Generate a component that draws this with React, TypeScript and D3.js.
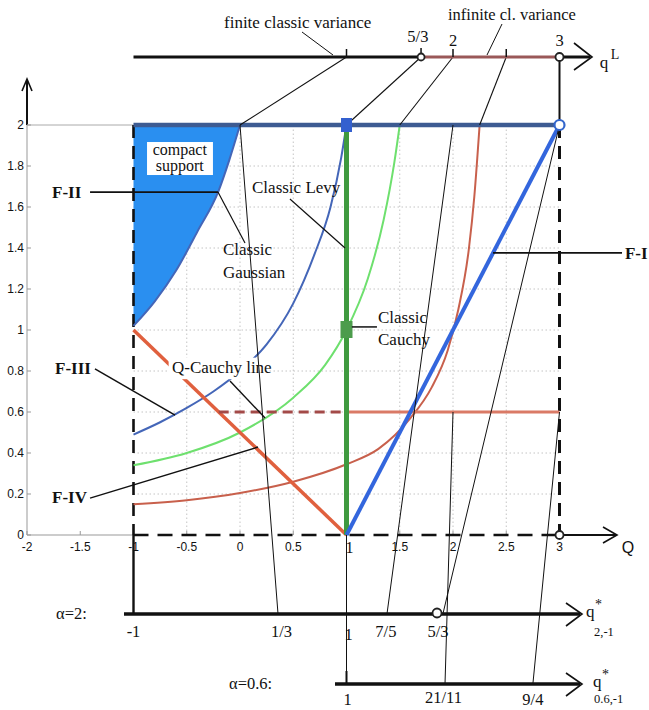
import React from 'react';
import * as d3 from 'd3';

// ---------- data (Q, alpha) ----------
const alphaTicks = [0, 0.2, 0.4, 0.6, 0.8, 1, 1.2, 1.4, 1.6, 1.8, 2];
const alphaTickLabels = ['0', '0.2', '0.4', '0.6', '0.8', '1', '1.2', '1.4', '1.6', '1.8', '2'];
const qTicks = [-2, -1.5, -1, -0.5, 0, 0.5, 1, 1.5, 2, 2.5, 3];
const qTickLabels = ['-2', '-1.5', '-1', '-0.5', '0', '0.5', '1', '1.5', '2', '2.5', '3'];
const gridQ = [-0.5, 0, 0.5, 1, 1.5, 2, 2.5];
const gridA = [0.2, 0.4, 0.6, 0.8, 1, 1.2, 1.4, 1.6, 1.8];

// q^L = 1 boundary (Classic Gaussian / compact support edge)
const gaussianCurve: [number, number][] = [[-1, 1.02], [-0.8, 1.14], [-0.6, 1.29], [-0.4, 1.48], [-0.2, 1.68], [-0.1, 1.83], [0, 2]];
// q^L = 5/3 (Classic Levy)
const levyCurve: [number, number][] = [[-1, 0.49], [-0.75, 0.55], [-0.5, 0.62], [-0.25, 0.7], [0, 0.8], [0.25, 0.93], [0.5, 1.13], [0.7, 1.37], [0.85, 1.6], [0.95, 1.84], [1, 2]];
// q^L = 2
const greenCurve: [number, number][] = [[-1, 0.34], [-0.5, 0.4], [0, 0.5], [0.5, 0.67], [0.8, 0.83], [1, 1.0], [1.2, 1.25], [1.35, 1.54], [1.45, 1.82], [1.5, 2]];
// q^L = 5/2
const redCurve: [number, number][] = [[-1, 0.15], [-0.5, 0.17], [0, 0.205], [0.5, 0.26], [1, 0.345], [1.3, 0.42], [1.6, 0.57], [1.8, 0.72], [1.95, 0.9], [2.05, 1.1], [2.15, 1.4], [2.2, 1.65], [2.25, 2]];
const qCauchyLine: [number, number][] = [[-1, 1], [1, 0]];
const fOneLine: [number, number][] = [[1, 0], [3, 2]];
const alpha06Dashed: [number, number][] = [[-0.2, 0.6], [1, 0.6]];
const alpha06Solid: [number, number][] = [[1, 0.6], [3, 0.6]];
const alpha2Line: [number, number][] = [[-1, 2], [3, 2]];
const classicLine: [number, number][] = [[1, 0], [1, 2]];

// top q^L axis
const qLTickValues = [1, 2, 2.5];
const qLCircleValues = [1.7, 3];
const qLLabels = [{ t: '5/3', v: 1.67 }, { t: '2', v: 2 }, { t: '3', v: 3 }];
const qLProjections = [{ qL: 1, Q: 0 }, { qL: 1.7, Q: 1 }, { qL: 2, Q: 1.5 }, { qL: 2.5, Q: 2.25 }, { qL: 3, Q: 3 }];

// bottom q* axes (label, position along the axis in Q units)
const qStar2Ticks = [{ t: '-1', v: -1 }, { t: '1/3', v: 0.39 }, { t: '1', v: 1.02 }, { t: '7/5', v: 1.37 }, { t: '5/3', v: 1.86 }];
const qStar06Ticks = [{ t: '1', v: 1.01 }, { t: '21/11', v: 1.91 }, { t: '9/4', v: 2.75 }];
const qStar2Projections = [{ Q: 0, a: 2, v: 0.357 }, { Q: 2, a: 2, v: 1.38 }, { Q: 3, a: 2, v: 1.905 }];
const qStar06Projections = [{ Q: 2, a: 0.6, v: 1.925 }, { Q: 3, a: 0.6, v: 2.75 }];

const SERIF = '"Liberation Serif", "Times New Roman", serif';
const SANS = '"Liberation Sans", Arial, sans-serif';

export default function App() {
  const x = d3.scaleLinear().domain([-2, 3]).range([27, 559.5]);
  const y = d3.scaleLinear().domain([0, 2]).range([535, 125]);
  const straight = d3.line<[number, number]>().x(d => x(d[0])).y(d => y(d[1]));
  const smooth = d3.line<[number, number]>().x(d => x(d[0])).y(d => y(d[1])).curve(d3.curveMonotoneX);

  const yTop = 57;
  const yA2 = 614;
  const yA06 = 684;

  const fillPath = smooth(gaussianCurve) + `L${x(-1)},${y(2)}Z`;

  const P = (q: number, a: number) => [x(q), y(a)];
  const seg = (a: number[], b: number[], props: any = {}) => (
    <line x1={a[0]} y1={a[1]} x2={b[0]} y2={b[1]} stroke="#111" strokeWidth={1} {...props} />
  );
  const LBL = 17;

  return (
    <svg width={649} height={710} style={{ position: 'absolute', left: 0, top: 0, background: '#fff' }}
      xmlns="http://www.w3.org/2000/svg">
      <rect x={0} y={0} width={649} height={710} fill="#fff" />
      {/* grid */}
      <g stroke="#c4c4c4" strokeWidth={1} strokeDasharray="1.5 2.5">
        {gridQ.map(q => <line key={'gq' + q} x1={x(q)} x2={x(q)} y1={y(0)} y2={y(2)} />)}
        {gridA.map(a => <line key={'ga' + a} x1={x(-1)} x2={x(3)} y1={y(a)} y2={y(a)} />)}
      </g>
      {/* compact support fill */}
      <path d={fillPath} fill="#2a8ff0" />
      {/* y axis */}
      <line x1={x(-2)} x2={x(-2)} y1={y(0)} y2={y(2)} stroke="#999" strokeWidth={1} />
      <line x1={x(-2)} x2={x(-2)} y1={y(2)} y2={80} stroke="#111" strokeWidth={2} />
      <path d={`M${x(-2) - 5},${91} L${x(-2)},${79} L${x(-2) + 5},${91}`} fill="none" stroke="#111" strokeWidth={1.6} />
      <line x1={x(-2)} x2={x(-1)} y1={y(2)} y2={y(2)} stroke="#aaa" strokeWidth={1} />
      <line x1={x(-2)} x2={x(-1)} y1={y(0)} y2={y(0)} stroke="#999" strokeWidth={1} />
      {alphaTicks.map((a, i) => (
        <g key={'at' + i}>
          <line x1={x(-2)} x2={x(-2) + 4} y1={y(a)} y2={y(a)} stroke="#999" />
          <text x={24} y={y(a) + 4} textAnchor="end" fontFamily={SANS} fontSize={12} fill="#111">{alphaTickLabels[i]}</text>
        </g>
      ))}
      {qTicks.map((q, i) => (
        <g key={'qt' + i}>
          <line x1={x(q)} x2={x(q)} y1={y(0)} y2={y(0) - 4} stroke="#999" />
          {qTickLabels[i] === '1'
            ? <text x={x(q) + 3} y={y(0) + 18} textAnchor="middle" fontFamily={SERIF} fontSize={16} fill="#111">1</text>
            : <text x={x(q)} y={y(0) + 16} textAnchor="middle" fontFamily={SANS} fontSize={12} fill="#111">{qTickLabels[i]}</text>}
        </g>
      ))}
      {/* dashed boundaries */}
      <line x1={x(-1)} x2={x(-1)} y1={y(2)} y2={y(0)} stroke="#111" strokeWidth={2.6} strokeDasharray="13 8" />
      <line x1={x(3)} x2={x(3)} y1={y(2)} y2={y(0)} stroke="#111" strokeWidth={3} strokeDasharray="13 8" />
      <line x1={x(-1)} x2={x(3)} y1={y(0)} y2={y(0)} stroke="#111" strokeWidth={2.6} strokeDasharray="15 9" />
      <line x1={x(3)} x2={617} y1={y(0)} y2={y(0)} stroke="#111" strokeWidth={2} />
      <path d={`M603,527 L617,535 L603,543`} fill="none" stroke="#111" strokeWidth={1.6} />
      <text x={628} y={553} textAnchor="middle" fontFamily={SANS} fontSize={16} fill="#111">Q</text>

      {/* curves */}
      <path d={smooth(gaussianCurve)!} fill="none" stroke="#4466b8" strokeWidth={2} />
      <path d={smooth(levyCurve)!} fill="none" stroke="#4466b8" strokeWidth={2} />
      <path d={smooth(greenCurve)!} fill="none" stroke="#6ee06e" strokeWidth={2} />
      <path d={smooth(redCurve)!} fill="none" stroke="#c8604c" strokeWidth={2} />
      <path d={straight(qCauchyLine)!} fill="none" stroke="#e0603e" strokeWidth={3.5} />
      <path d={straight(alpha06Dashed)!} fill="none" stroke="#a34a48" strokeWidth={3} strokeDasharray="10 6" />
      <path d={straight(alpha06Solid)!} fill="none" stroke="#da7a66" strokeWidth={3} />
      <path d={straight(classicLine)!} fill="none" stroke="#3f9a3f" strokeWidth={5} />
      <path d={straight(fOneLine)!} fill="none" stroke="#3366dd" strokeWidth={4} />
      <path d={straight(alpha2Line)!} fill="none" stroke="#3d5b92" strokeWidth={4.5} />

      {/* label backgrounds */}
      <rect x={x(-0.873)} y={y(1.917)} width={x(-0.254) - x(-0.873)} height={y(1.756) - y(1.917)} fill="#fff" />
      <rect x={x(-0.67)} y={y(0.865)} width={x(0.16) - x(-0.67)} height={y(0.76) - y(0.865)} fill="#fff" />

      {/* thin projection lines */}
      {qLProjections.map((p, i) => seg([x(p.qL), yTop], [x(p.Q), y(2)], { key: 'tp' + i, strokeWidth: p.qL === 3 ? 2 : 1.1 }))}
      {qStar2Projections.map((p, i) => seg(P(p.Q, p.a), [x(p.v), yA2], { key: 'b2' + i }))}
      {qStar06Projections.map((p, i) => seg(P(p.Q, p.a), [x(p.v), yA06], { key: 'b6' + i }))}
      {seg([x(-1), y(0)], [x(-1), yA2], { strokeWidth: 2.4 })}
      {seg([x(1), y(0)], [x(1), yA06], { strokeWidth: 1 })}

      {/* top q^L axis */}
      <line x1={x(-1)} x2={x(1.7)} y1={yTop} y2={yTop} stroke="#111" strokeWidth={3.2} />
      <line x1={x(1.7)} x2={x(3)} y1={yTop} y2={yTop} stroke="#9a5858" strokeWidth={3.2} />
      <line x1={x(3)} x2={590} y1={yTop} y2={yTop} stroke="#111" strokeWidth={3} />
      <path d={`M574,43 L592,57 L574,70`} fill="none" stroke="#111" strokeWidth={1.6} />
      {qLTickValues.map(v => <line key={'qlt' + v} x1={x(v)} x2={x(v)} y1={yTop} y2={yTop - 8} stroke="#111" strokeWidth={1.5} />)}
      <line x1={x(1.7)} x2={x(1.7)} y1={yTop} y2={yTop - 9} stroke="#111" strokeWidth={1.5} />
      {qLCircleValues.map(v => <circle key={'qlc' + v} cx={x(v)} cy={yTop} r={v === 3 ? 4 : 3.5} fill="#fff" stroke="#222" strokeWidth={1.8} />)}
      {qLLabels.map(l => (
        <text key={'qll' + l.t} x={x(l.v)} y={l.t === '5/3' ? 42 : 46} textAnchor="middle" fontFamily={SERIF} fontSize={16.5} fill="#111">{l.t}</text>
      ))}
      <text x={604} y={68} textAnchor="middle" fontFamily={SERIF} fontSize={17} fill="#111">q</text>
      <text x={615} y={59} textAnchor="middle" fontFamily={SERIF} fontSize={14} fill="#111">L</text>
      <text x={224} y={28} fontFamily={SERIF} fontSize={LBL} fill="#111">finite classic variance</text>
      <text x={448} y={20} fontFamily={SERIF} fontSize={16.5} fill="#111">infinite cl. variance</text>
      {seg([302, 32], [333, yTop - 2])}
      {seg([502, 24], [487, yTop - 2])}

      {/* bottom q* axes */}
      <line x1={124} x2={580} y1={yA2} y2={yA2} stroke="#111" strokeWidth={3.5} />
      <path d={`M566,603 L582,614 L566,626`} fill="none" stroke="#111" strokeWidth={1.6} />
      <line x1={335} x2={580} y1={yA06} y2={yA06} stroke="#111" strokeWidth={3.5} />
      <path d={`M566,673 L582,684 L566,696`} fill="none" stroke="#111" strokeWidth={1.6} />
      <line x1={x(1)} x2={x(1)} y1={yA06} y2={yA06 - 13} stroke="#111" strokeWidth={2} />
      <circle cx={x(1.85)} cy={yA2 - 1} r={4.5} fill="#fff" stroke="#222" strokeWidth={1.8} />
      {qStar2Ticks.map(t => (
        <text key={'s2' + t.t} x={x(t.v)} y={t.t === '1' ? 640 : 637} textAnchor="middle" fontFamily={SERIF} fontSize={16.5} fill="#111">{t.t}</text>
      ))}
      {qStar06Ticks.map(t => (
        <text key={'s6' + t.t} x={x(t.v)} y={t.t === '21/11' ? 703 : 705} textAnchor="middle" fontFamily={SERIF} fontSize={16.5} fill="#111">{t.t}</text>
      ))}
      <text x={56} y={619} fontFamily={SERIF} fontSize={16.5} fill="#111">α=2:</text>
      <text x={229} y={689} fontFamily={SERIF} fontSize={16.5} fill="#111">α=0.6:</text>
      <text x={586} y={617} fontFamily={SERIF} fontSize={17} fill="#111">q</text>
      <text x={595} y={609} fontFamily={SERIF} fontSize={14} fill="#111">*</text>
      <text x={594} y={636} fontFamily={SERIF} fontSize={12.5} fill="#111">2,-1</text>
      <text x={593} y={687} fontFamily={SERIF} fontSize={17} fill="#111">q</text>
      <text x={602} y={679} fontFamily={SERIF} fontSize={14} fill="#111">*</text>
      <text x={594} y={703} fontFamily={SERIF} fontSize={12.5} fill="#111">0.6,-1</text>

      {/* markers */}
      <rect x={x(1) - 5.5} y={y(2) - 7} width={11} height={14} fill="#3460cf" />
      <rect x={x(1) - 6} y={y(1) - 9} width={12} height={17} fill="#4c9c4c" />
      <circle cx={x(3)} cy={y(2)} r={5} fill="#fff" stroke="#3366cc" strokeWidth={2.2} />
      <circle cx={x(3)} cy={y(0)} r={4} fill="#fff" stroke="#222" strokeWidth={1.8} />

      {/* labels */}
      <text x={x(-0.565)} y={155} textAnchor="middle" fontFamily={SERIF} fontSize={16} fill="#111">compact</text>
      <text x={x(-0.565)} y={171} textAnchor="middle" fontFamily={SERIF} fontSize={16} fill="#111">support</text>

      <text x={x(-1.765)} y={y(1.644)} fontFamily={SERIF} fontWeight="bold" fontSize={17} fill="#111">F-II</text>
      {seg(P(-1.408, 1.673), P(-0.207, 1.673), { strokeWidth: 1.8 })}
      <text x={x(-0.16)} y={y(1.366)} fontFamily={SERIF} fontSize={LBL} fill="#111">Classic</text>
      <text x={x(-0.16)} y={y(1.254)} fontFamily={SERIF} fontSize={LBL} fill="#111">Gaussian</text>
      {seg(P(-0.207, 1.673), P(0.047, 1.424), { strokeWidth: 1.2 })}

      <text x={x(0.113)} y={y(1.668)} fontFamily={SERIF} fontSize={LBL} fill="#111">Classic Levy</text>
      {seg(P(0.469, 1.639), P(0.986, 1.4), { strokeWidth: 1.2 })}

      <text x={x(1.296)} y={y(1.034)} fontFamily={SERIF} fontSize={LBL} fill="#111">Classic</text>
      <text x={x(1.296)} y={y(0.927)} fontFamily={SERIF} fontSize={LBL} fill="#111">Cauchy</text>
      {seg(P(1.05, 1.015), P(1.286, 1.015), { strokeWidth: 1.5 })}

      <text x={x(3.615)} y={y(1.346)} fontFamily={SERIF} fontWeight="bold" fontSize={17} fill="#111">F-I</text>
      {seg(P(2.376, 1.376), P(3.587, 1.376), { strokeWidth: 1.8 })}

      <text x={x(-1.737)} y={y(0.785)} fontFamily={SERIF} fontWeight="bold" fontSize={17} fill="#111">F-III</text>
      {seg(P(-1.362, 0.81), P(-0.61, 0.585), { strokeWidth: 1.5 })}

      <text x={x(-0.638)} y={y(0.79)} fontFamily={SERIF} fontSize={LBL} fill="#111">Q-Cauchy line</text>
      {seg(P(-0.094, 0.751), P(0.235, 0.571), { strokeWidth: 1.4 })}

      <text x={x(-1.765)} y={y(0.156)} fontFamily={SERIF} fontWeight="bold" fontSize={17} fill="#111">F-IV</text>
      {seg(P(-1.408, 0.18), P(0.169, 0.429), { strokeWidth: 1.5 })}
    </svg>
  );
}
